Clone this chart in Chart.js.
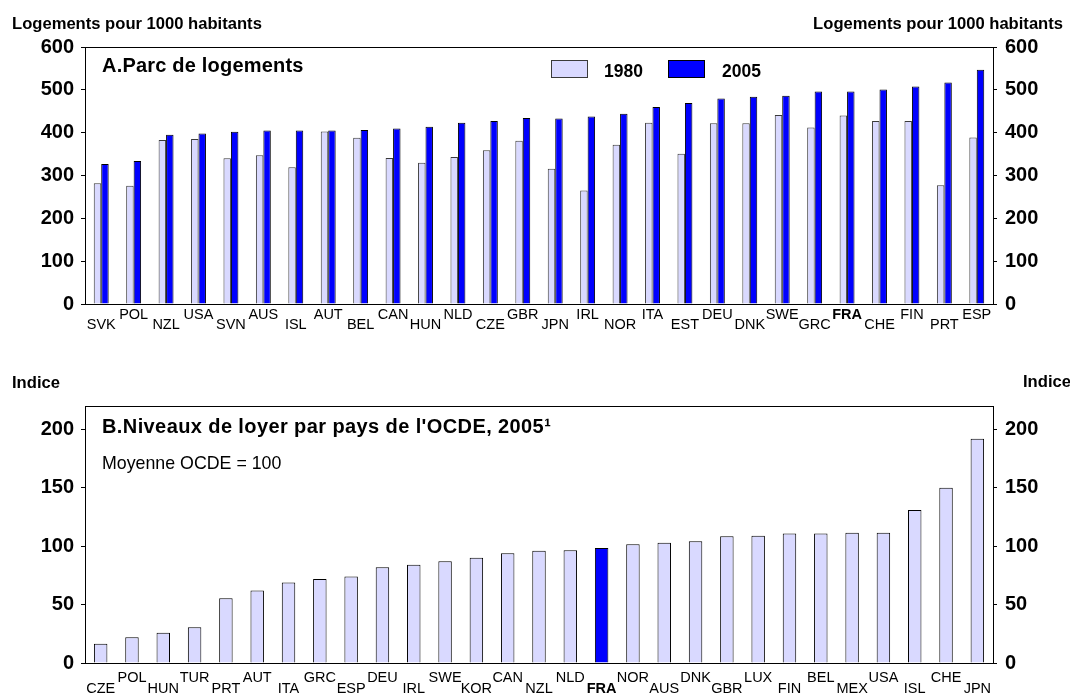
<!DOCTYPE html>
<html>
<head>
<meta charset="utf-8">
<script src="https://cdn.jsdelivr.net/npm/chart.js@4/dist/chart.umd.min.js"></script>
<style>
    html, body { margin: 0; padding: 0; background: #fff; }
    #wrap { position: relative; width: 1070px; height: 693px; }
    #stockChart, #rentChart { position: absolute; left: 0; }
    #stockChart { top: 0; }
    #rentChart { top: 350px; }
</style>
</head>
<body>
<div id="wrap">
    <canvas id="stockChart" width="1070" height="350"></canvas>
    <canvas id="rentChart" width="1070" height="343"></canvas>
</div>
<script>
// Panel A: dwellings per 1000 inhabitants
const stockCountries = ['SVK', 'POL', 'NZL', 'USA', 'SVN', 'AUS', 'ISL', 'AUT', 'BEL', 'CAN', 'HUN', 'NLD', 'CZE', 'GBR',
    'JPN', 'IRL', 'NOR', 'ITA', 'EST', 'DEU', 'DNK', 'SWE', 'GRC', 'FRA', 'CHE', 'FIN', 'PRT', 'ESP'];
const stock1980 = [282, 276, 383, 385, 340, 347, 319, 403, 388, 341, 330, 343, 359, 381,
    316, 265, 372, 423, 351, 422, 422, 441, 412, 440, 427, 427, 277, 389];
const stock2005 = [327, 334, 395, 398, 402, 405, 405, 405, 406, 410, 414, 423, 427, 434,
    433, 438, 444, 460, 469, 480, 484, 486, 496, 496, 501, 508, 517, 547];
const stockTicks = [0, 100, 200, 300, 400, 500, 600];

// Panel B: rent levels, OECD average = 100
const rentCountries = ['CZE', 'POL', 'HUN', 'TUR', 'PRT', 'AUT', 'ITA', 'GRC', 'ESP', 'DEU', 'IRL', 'SWE', 'KOR', 'CAN',
    'NZL', 'NLD', 'FRA', 'NOR', 'AUS', 'DNK', 'GBR', 'LUX', 'FIN', 'BEL', 'MEX', 'USA', 'ISL', 'CHE', 'JPN'];
const rentIndex = [16.5, 22, 26, 30.5, 55.5, 62, 69, 72, 74, 82, 84, 87, 90, 94,
    96, 96.6, 98.5, 101.7, 103, 104.3, 108.5, 109, 110.8, 110.8, 111.5, 111.5, 131, 150, 192];
const rentTicks = [0, 50, 100, 150, 200];

const FONT = "'Liberation Sans', Arial, sans-serif";
const LIGHT = '#d9d9ff';
const BLUE = '#0000ff';

// alternate labels low / high like the original
function stagger(list) {
    return list.map((c, i) => i % 2 === 0 ? ['', c] : [c, '']);
}

function yAxis(position, max, ticks, width, pad) {
    return {
        type: 'linear',
        position: position,
        min: 0,
        max: max,
        afterFit: s => { s.width = width; },
        afterBuildTicks: s => { s.ticks = ticks.map(v => ({ value: v })); },
        border: { display: false },
        grid: { drawOnChartArea: false, drawTicks: true, tickLength: 4, color: '#000', tickColor: '#000' },
        ticks: { color: '#000', padding: pad, font: { family: FONT, size: 20, weight: 'bold' } }
    };
}

function xAxis(names, height, pad, lh) {
    return {
        afterFit: s => { s.height = height; },
        border: { display: false },
        grid: { display: false },
        ticks: {
            autoSkip: false,
            maxRotation: 0,
            minRotation: 0,
            padding: pad,
            color: '#000',
            font: ctx => ({
                family: FONT,
                size: 14.5,
                weight: names[ctx.index] === 'FRA' ? 'bold' : 'normal',
                lineHeight: lh
            })
        }
    };
}

const framePlugin = {
    id: 'frame',
    afterDatasetsDraw(chart) {
        const a = chart.chartArea;
        const ctx = chart.ctx;
        ctx.save();
        ctx.strokeStyle = '#000';
        ctx.lineWidth = 1;
        ctx.strokeRect(Math.round(a.left) + 0.5, Math.round(a.top) + 0.5,
            Math.round(a.right - a.left), Math.round(a.bottom - a.top));
        ctx.restore();
    }
};

// Panel A
const stockTexts = {
    id: 'stockTexts',
    afterDraw(chart) {
        const ctx = chart.ctx;
        ctx.save();
        ctx.fillStyle = '#000';
        ctx.textBaseline = 'alphabetic';
        ctx.font = 'bold 16.6px ' + FONT;
        ctx.textAlign = 'left';
        ctx.fillText('Logements pour 1000 habitants', 12, 29);
        ctx.textAlign = 'right';
        ctx.fillText('Logements pour 1000 habitants', 1063, 29);
        ctx.textAlign = 'left';
        ctx.font = 'bold 20px ' + FONT;
        ctx.letterSpacing = '0.2px';
        ctx.fillText('A.Parc de logements', 102, 72);
        ctx.letterSpacing = '0px';

        // legend
        const items = [{ x: 551, tx: 604 }, { x: 668, tx: 722 }];
        chart.data.datasets.forEach((ds, i) => {
            const it = items[i];
            ctx.fillStyle = ds.backgroundColor;
            ctx.fillRect(it.x, 60, 36, 17);
            ctx.strokeStyle = ds.borderColor;
            ctx.lineWidth = 1;
            ctx.strokeRect(it.x + 0.5, 60.5, 36, 17);
            ctx.fillStyle = '#000';
            ctx.font = 'bold 17.5px ' + FONT;
            ctx.fillText(ds.label, it.tx, 77);
        });
        ctx.restore();
    }
};

new Chart(document.getElementById('stockChart').getContext('2d'), {
    type: 'bar',
    data: {
        labels: stagger(stockCountries),
        datasets: [
            {
                label: '1980',
                data: stock1980,
                backgroundColor: LIGHT,
                borderColor: '#3a3a3a',
                borderWidth: 1,
                barPercentage: 1,
                categoryPercentage: 0.46
            },
            {
                label: '2005',
                data: stock2005,
                backgroundColor: BLUE,
                borderColor: '#000',
                borderWidth: 1,
                barPercentage: 1,
                categoryPercentage: 0.46
            }
        ]
    },
    options: {
        responsive: false,
        animation: false,
        layout: { padding: { top: 47, left: 0, right: 0, bottom: 0 } },
        plugins: { legend: { display: false }, title: { display: false }, tooltip: { enabled: false } },
        scales: {
            x: xAxis(stockCountries, 46, -2, '10px'),
            y: yAxis('left', 600, stockTicks, 85, 7),
            yR: yAxis('right', 600, stockTicks, 77, 8)
        }
    },
    plugins: [framePlugin, stockTexts]
});

// Panel B
const rentTexts = {
    id: 'rentTexts',
    afterDraw(chart) {
        const ctx = chart.ctx;
        ctx.save();
        ctx.fillStyle = '#000';
        ctx.textBaseline = 'alphabetic';
        ctx.font = 'bold 16.6px ' + FONT;
        ctx.textAlign = 'left';
        ctx.fillText('Indice', 12, 38);
        ctx.fillText('Indice', 1023, 37);
        ctx.font = 'bold 20px ' + FONT;
        ctx.letterSpacing = '0.4px';
        ctx.fillText('B.Niveaux de loyer par pays de l\'OCDE, 2005\u00b9', 102, 83);
        ctx.letterSpacing = '0px';
        ctx.font = '17.8px ' + FONT;
        ctx.fillText('Moyenne OCDE = 100', 102, 119);
        ctx.restore();
    }
};

new Chart(document.getElementById('rentChart').getContext('2d'), {
    type: 'bar',
    data: {
        labels: stagger(rentCountries),
        datasets: [{
            label: 'Indice',
            data: rentIndex,
            backgroundColor: rentCountries.map(c => c === 'FRA' ? BLUE : LIGHT),
            borderColor: '#000',
            borderWidth: 1,
            barPercentage: 0.43,
            categoryPercentage: 1
        }]
    },
    options: {
        responsive: false,
        animation: false,
        layout: { padding: { top: 56, left: 0, right: 0, bottom: 0 } },
        plugins: { legend: { display: false }, title: { display: false }, tooltip: { enabled: false } },
        scales: {
            x: xAxis(rentCountries, 30, 1, '11px'),
            y: yAxis('left', 220, rentTicks, 85, 7),
            yR: yAxis('right', 220, rentTicks, 77, 8)
        }
    },
    plugins: [framePlugin, rentTexts]
});
</script>
</body>
</html>
